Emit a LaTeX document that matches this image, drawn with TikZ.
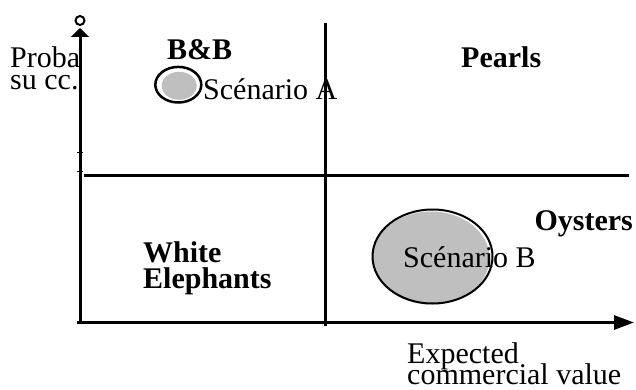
\documentclass[tikz,border=0pt]{standalone}
\usepackage{fontspec}
\setmainfont{Liberation Serif}
\usetikzlibrary{arrows.meta}
\begin{document}
\begin{tikzpicture}[x=1pt,y=-1pt,
  lbl/.style={inner sep=0pt,anchor=base west,font=\fontsize{30}{30}\selectfont},
  blbl/.style={lbl,font=\fontsize{30}{30}\selectfont\bfseries},
  axis/.style={line width=3pt},
  divider/.style={line width=3pt}]
\useasboundingbox (0,0) rectangle (636,390);
% axes
\coordinate (O) at (80,322.5);
\coordinate (ytop) at (80,28);
\coordinate (xend) at (634,322.5);
\coordinate (xstart) at (77,322.5);
\draw[axis,-{Triangle[length=9pt,width=18pt]}] (80,324) -- (ytop);
\draw[axis,-{Triangle[length=20pt,width=14pt]}] (xstart) -- (xend);
\node[circle,draw,line width=2pt,inner sep=0pt,minimum size=9pt] (cap) at (80,20.5) {};
% ticks
\draw[line width=1pt] (77,152.5) -- (83,152.5) (77,171.5) -- (83,171.5);
% dividers
\coordinate (hl) at (84,175);
\coordinate (hr) at (629,175);
\coordinate (vt) at (325,23);
\coordinate (vb) at (325,326);
\draw[divider] (hl) -- (hr);
\draw[divider] (vt) -- (vb);
% scenario ellipses
\fill[gray!50] (179.2,85.8) ellipse [x radius=17.5, y radius=14];
\draw[line width=2.5pt] (178.3,84.7) ellipse [x radius=23, y radius=17.8];
\fill[gray!50] (431,258) ellipse [x radius=58.5, y radius=46.5];
\draw[line width=2pt] (432.5,256.5) ellipse [x radius=60, y radius=47];
% labels
\node[lbl] (proba) at (10,68) {Proba};
\node[lbl] (succ) at (10,90) {su cc.};
\node[blbl] (bb) at (167,60) {B\&B};
\node[blbl] (pearls) at (461,68) {Pearls};
\node[blbl,anchor=base east] (oysters) at (633,230) {Oysters};
\node[blbl] (white) at (143,262) {White};
\node[blbl] (eleph) at (143,288) {Elephants};
\node[lbl] (sa) at (203,100) {Scénario A};
\node[lbl] (sb) at (403,267) {Scénario B};
\node[lbl] (exp) at (407,363) {Expected};
\node[lbl] (cv) at (407,384) {commercial value};
\end{tikzpicture}
\end{document}
